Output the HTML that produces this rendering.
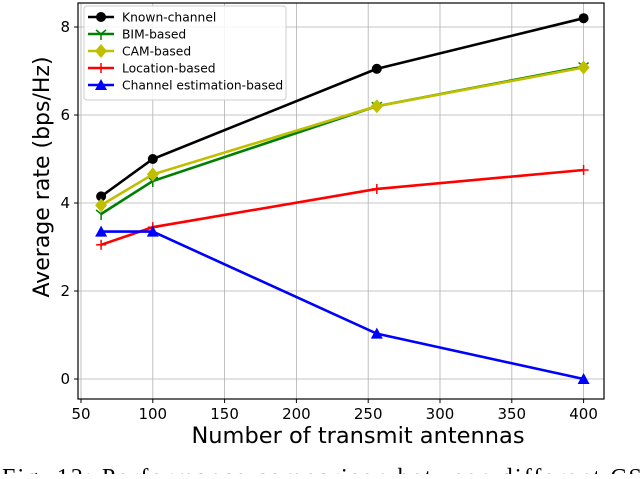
<!DOCTYPE html>
<html><head><meta charset="utf-8"><style>
body{margin:0;background:#fff;width:640px;height:474px;overflow:hidden}
svg{font-family:"DejaVu Sans","Liberation Sans",sans-serif}
</style></head><body>
<svg id="c" width="640" height="474"></svg>
<script>
const xs=[64,100,256,400];
const known=[4.15,5.0,7.05,8.2];
const bim=[3.75,4.5,6.2,7.1];
const cam=[3.95,4.65,6.2,7.08];
const loc=[3.05,3.45,4.32,4.75];
const est=[3.35,3.35,1.03,0.0];
const xTicks=[50,100,150,200,250,300,350,400];
const yTicks=[0,2,4,6,8];
const L=78,R=604,T=3,B=399;
const X=v=>81+(v-50)*1.436;
const Y=v=>379-v*44;
const ns="http://www.w3.org/2000/svg",svg=document.getElementById('c');
function el(t,a,p){const e=document.createElementNS(ns,t);for(const k in a)e.setAttribute(k,a[k]);(p||svg).appendChild(e);return e;}
xTicks.forEach(t=>{
 const g=el('line',{x1:X(t),x2:X(t),y1:T,y2:B,stroke:'#b0b0b0','stroke-width':0.8});
 
 
 el('line',{x1:X(t),x2:X(t),y1:B,y2:B+4,stroke:'#000'});
 const tx=el('text',{x:X(t),y:B+20,'text-anchor':'middle','font-size':15});tx.textContent=t;
 
 
});
yTicks.forEach(t=>{
 const g=el('line',{x1:L,x2:R,y1:Y(t),y2:Y(t),stroke:'#b0b0b0','stroke-width':0.8});
 
 
 el('line',{x1:L-4,x2:L,y1:Y(t),y2:Y(t),stroke:'#000'});
 const tx=el('text',{x:L-8,y:Y(t)+5,'text-anchor':'end','font-size':15});tx.textContent=t;
 
 
});
const ax=el('rect',{x:L,y:T,width:R-L,height:B-T,fill:'none',stroke:'#000','stroke-width':1.2});


function marker(type,x,y,c,g){
 if(type==='o')el('circle',{cx:x,cy:y,r:5,fill:c},g);
 else if(type==='D')el('polygon',{points:`${x},${y-7} ${x+6},${y} ${x},${y+7} ${x-6},${y}`,fill:c},g);
 else if(type==='^')el('polygon',{points:`${x},${y-6} ${x+6},${y+5} ${x-6},${y+5}`,fill:c},g);
 else if(type==='+'){el('line',{x1:x-5,x2:x+5,y1:y,y2:y,stroke:c,'stroke-width':1.5},g);el('line',{x1:x,x2:x,y1:y-5,y2:y+5,stroke:c,'stroke-width':1.5},g);}
 else if(type==='1'){el('line',{x1:x,x2:x,y1:y,y2:y+6,stroke:c,'stroke-width':1.5},g);el('line',{x1:x,x2:x-5,y1:y,y2:y-4,stroke:c,'stroke-width':1.5},g);el('line',{x1:x,x2:x+5,y1:y,y2:y-4,stroke:c,'stroke-width':1.5},g);}
}
const series=[['known-channel',known,'#000','o','Known-channel'],['bim-based',bim,'#008000','1','BIM-based'],['cam-based',cam,'#bfbf00','D','CAM-based'],['location-based',loc,'#ff0000','+','Location-based'],['channel-estimation-based',est,'#0000ff','^','Channel estimation-based']];
series.forEach(s=>{
 const g=el('g',{});
 
 
 el('polyline',{points:xs.map((x,i)=>X(x)+','+Y(s[1][i])).join(' '),fill:'none',stroke:s[2],'stroke-width':2.6},g);
 xs.forEach((x,i)=>marker(s[3],X(x),Y(s[1][i]),s[2],g));
});
const lg=el('g',{});


el('rect',{x:84,y:6,width:202,height:94,rx:3,fill:'#fff','fill-opacity':0.85,stroke:'#ccc'},lg);
series.forEach((s,i)=>{
 const y=17+i*17;
 const e=el('g',{},lg);
 
 
 el('line',{x1:88,x2:114,y1:y,y2:y,stroke:s[2],'stroke-width':2.6},e);
 marker(s[3],101,y,s[2],e);
 const t=el('text',{x:122,y:y+4.5,'font-size':12.3},e);t.textContent=s[4];
});
const xt=el('text',{x:358,y:443,'text-anchor':'middle','font-size':22.5});xt.textContent='Number of transmit antennas';


const yt=el('text',{x:0,y:0,'text-anchor':'middle','font-size':22,transform:`translate(49,177) rotate(-90)`});yt.textContent='Average rate (bps/Hz)';


const cap=el('text',{x:2,y:485,'font-size':24,'font-family':'Liberation Serif,serif',textLength:650,lengthAdjust:'spacing'});cap.textContent='Fig. 12: Performance comparison between different CSI';


</script>
</body></html>
